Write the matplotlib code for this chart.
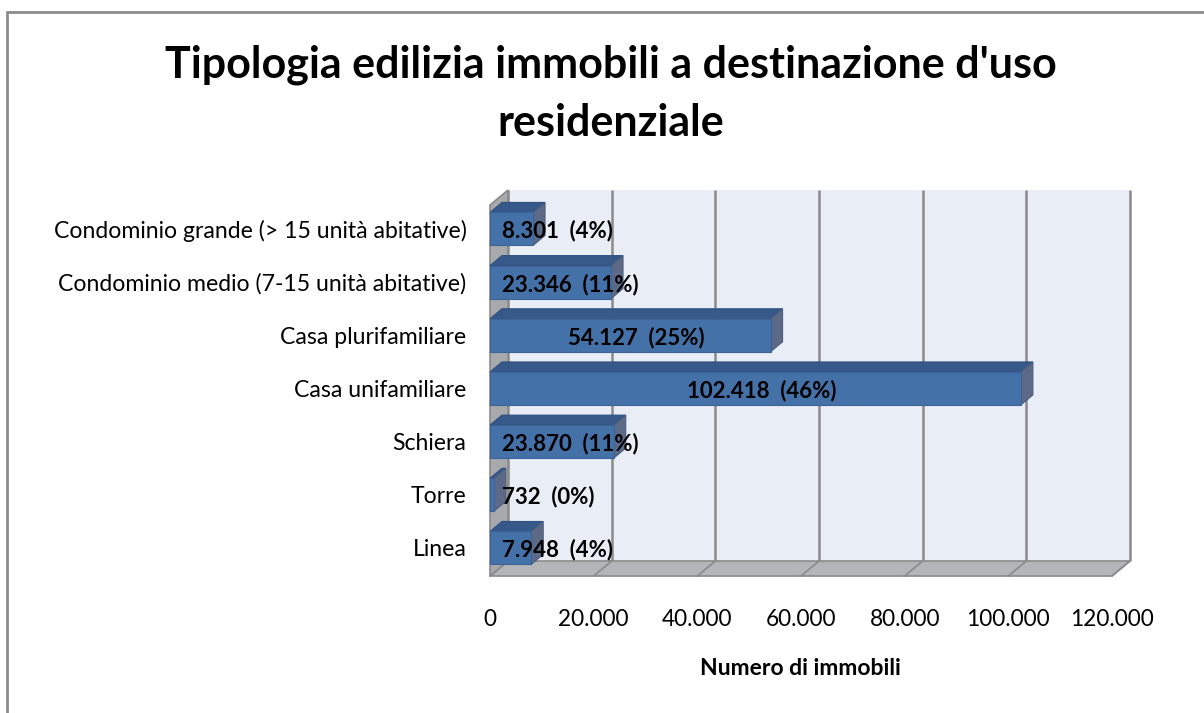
import matplotlib
matplotlib.use("Agg")
import matplotlib.pyplot as plt
from matplotlib.patches import Polygon, Rectangle

plt.rcParams['font.family'] = ['Lato', 'DejaVu Sans']

# ---------------- data ----------------
categories = ["Linea", "Torre", "Schiera", "Casa unifamiliare", "Casa plurifamiliare",
              "Condominio medio (7-15 unità abitative)",
              "Condominio grande (> 15 unità abitative)"]
values = [7948, 732, 23870, 102418, 54127, 23346, 8301]
percents = [4, 0, 11, 46, 25, 11, 4]
xticks = [0, 20000, 40000, 60000, 80000, 100000, 120000]
title = "Tipologia edilizia immobili a destinazione d'uso\nresidenziale"
xlabel = "Numero di immobili"

# ---------------- layout ----------------
W, H = 1204, 713
fig = plt.figure(figsize=(W / 100, H / 100), dpi=100)
fig.patch.set_facecolor("white")

# chart frame
fig.add_artist(Rectangle((7 / W, -0.1), 1.2, 1 - 12 / H + 0.1, transform=fig.transFigure,
                         fill=False, edgecolor="#8c8c8c", linewidth=2))

ax_l, ax_r, ax_b, ax_t = 490, 1112, 576, 205
ax = fig.add_axes([ax_l / W, 1 - ax_b / H, (ax_r - ax_l) / W, (ax_b - ax_t) / H])
xmax = 120000
ylo, yhi = -0.527, 6.45
ax.set_xlim(0, xmax)
ax.set_ylim(ylo, yhi)
for s in ax.spines.values():
    s.set_visible(False)
ax.patch.set_alpha(0)

ux = xmax / (ax_r - ax_l)            # data units per px (x)
uy = (yhi - ylo) / (ax_b - ax_t)     # data units per px (y)

wdx, wdy = 18 * ux, 15 * uy          # wall depth offset
bdx, bdy = 12 * ux, 10 * uy          # bar depth offset
ytop_back = yhi + (205 - 190) * uy

# back wall
ax.add_patch(Polygon([(wdx, ylo + wdy), (xmax + wdx, ylo + wdy), (xmax + wdx, ytop_back),
                      (wdx, ytop_back)], closed=True, facecolor="#e9edf6",
                     edgecolor="none", zorder=1, clip_on=False))
# gridlines on back wall
for t in xticks:
    ax.plot([t + wdx, t + wdx], [ylo + wdy, ytop_back], color="#8a8a8a", lw=1.8,
            zorder=2, clip_on=False, solid_capstyle="butt")

# floor
ax.add_patch(Polygon([(0, ylo), (xmax, ylo), (xmax + wdx, ylo + wdy), (wdx, ylo + wdy)],
                     closed=True, facecolor="#b3b5b9", edgecolor="#8a8a8a", lw=1.2,
                     zorder=2, clip_on=False))
for t in xticks:
    ax.plot([t, t + wdx], [ylo, ylo + wdy], color="#8a8a8a", lw=1.2, zorder=2.5, clip_on=False)

# left wall
ax.add_patch(Polygon([(0, ylo), (wdx, ylo + wdy), (wdx, ytop_back), (0, ytop_back - wdy)],
                     closed=True, facecolor="#a8a9ac", edgecolor="#8a8a8a", lw=1.2,
                     zorder=3, clip_on=False))

# bars
bh = 33 * uy
for i, v in enumerate(values):
    y0, y1 = i - bh / 2, i + bh / 2
    ax.add_patch(Polygon([(0, y1), (v, y1), (v + bdx, y1 + bdy), (bdx, y1 + bdy)], closed=True,
                         facecolor="#36598a", edgecolor="#2f5282", lw=0.8, zorder=5, clip_on=False))
    ax.add_patch(Polygon([(v, y0), (v + bdx, y0 + bdy), (v + bdx, y1 + bdy), (v, y1)], closed=True,
                         facecolor="#5c6a88", edgecolor="#4b5b7c", lw=0.8, zorder=5, clip_on=False))
    ax.add_patch(Rectangle((0, y0), v, bh, facecolor="#4571a9", edgecolor="#3b6396",
                           lw=0.8, zorder=6, clip_on=False))
    txt = f"{v:,}".replace(",", ".") + f"  ({percents[i]}%)"
    if v < 30000:
        ax.text(12 * ux, i - 2 * uy, txt, ha="left", va="center", fontsize=16,
                fontweight="bold", color="black", zorder=8)
    else:
        ax.text((v + bdx) / 2, i - 2 * uy, txt, ha="center", va="center", fontsize=16,
                fontweight="bold", color="black", zorder=8)

# ticks
ax.set_yticks(range(len(categories)))
ax.set_yticklabels(categories, fontsize=16.6)
ax.set_xticks(xticks)
ax.set_xticklabels([f"{t:,}".replace(",", ".") for t in xticks], fontsize=16.3)
ax.tick_params(axis="y", length=0, pad=17)
ax.tick_params(axis="x", length=0, pad=24)
for lab in ax.get_yticklabels():
    lab.set_y(lab.get_position()[1])

ax.set_xlabel(xlabel, fontsize=16.5, fontweight="bold", labelpad=20)
ax.xaxis.label.set_x((800 - ax_l) / (ax_r - ax_l))

fig.text(611 / W, 1 - 94 / H, title, ha="center", va="center", fontsize=31,
         fontweight="bold", linespacing=1.55)

fig.savefig("out.png", dpi=100)
